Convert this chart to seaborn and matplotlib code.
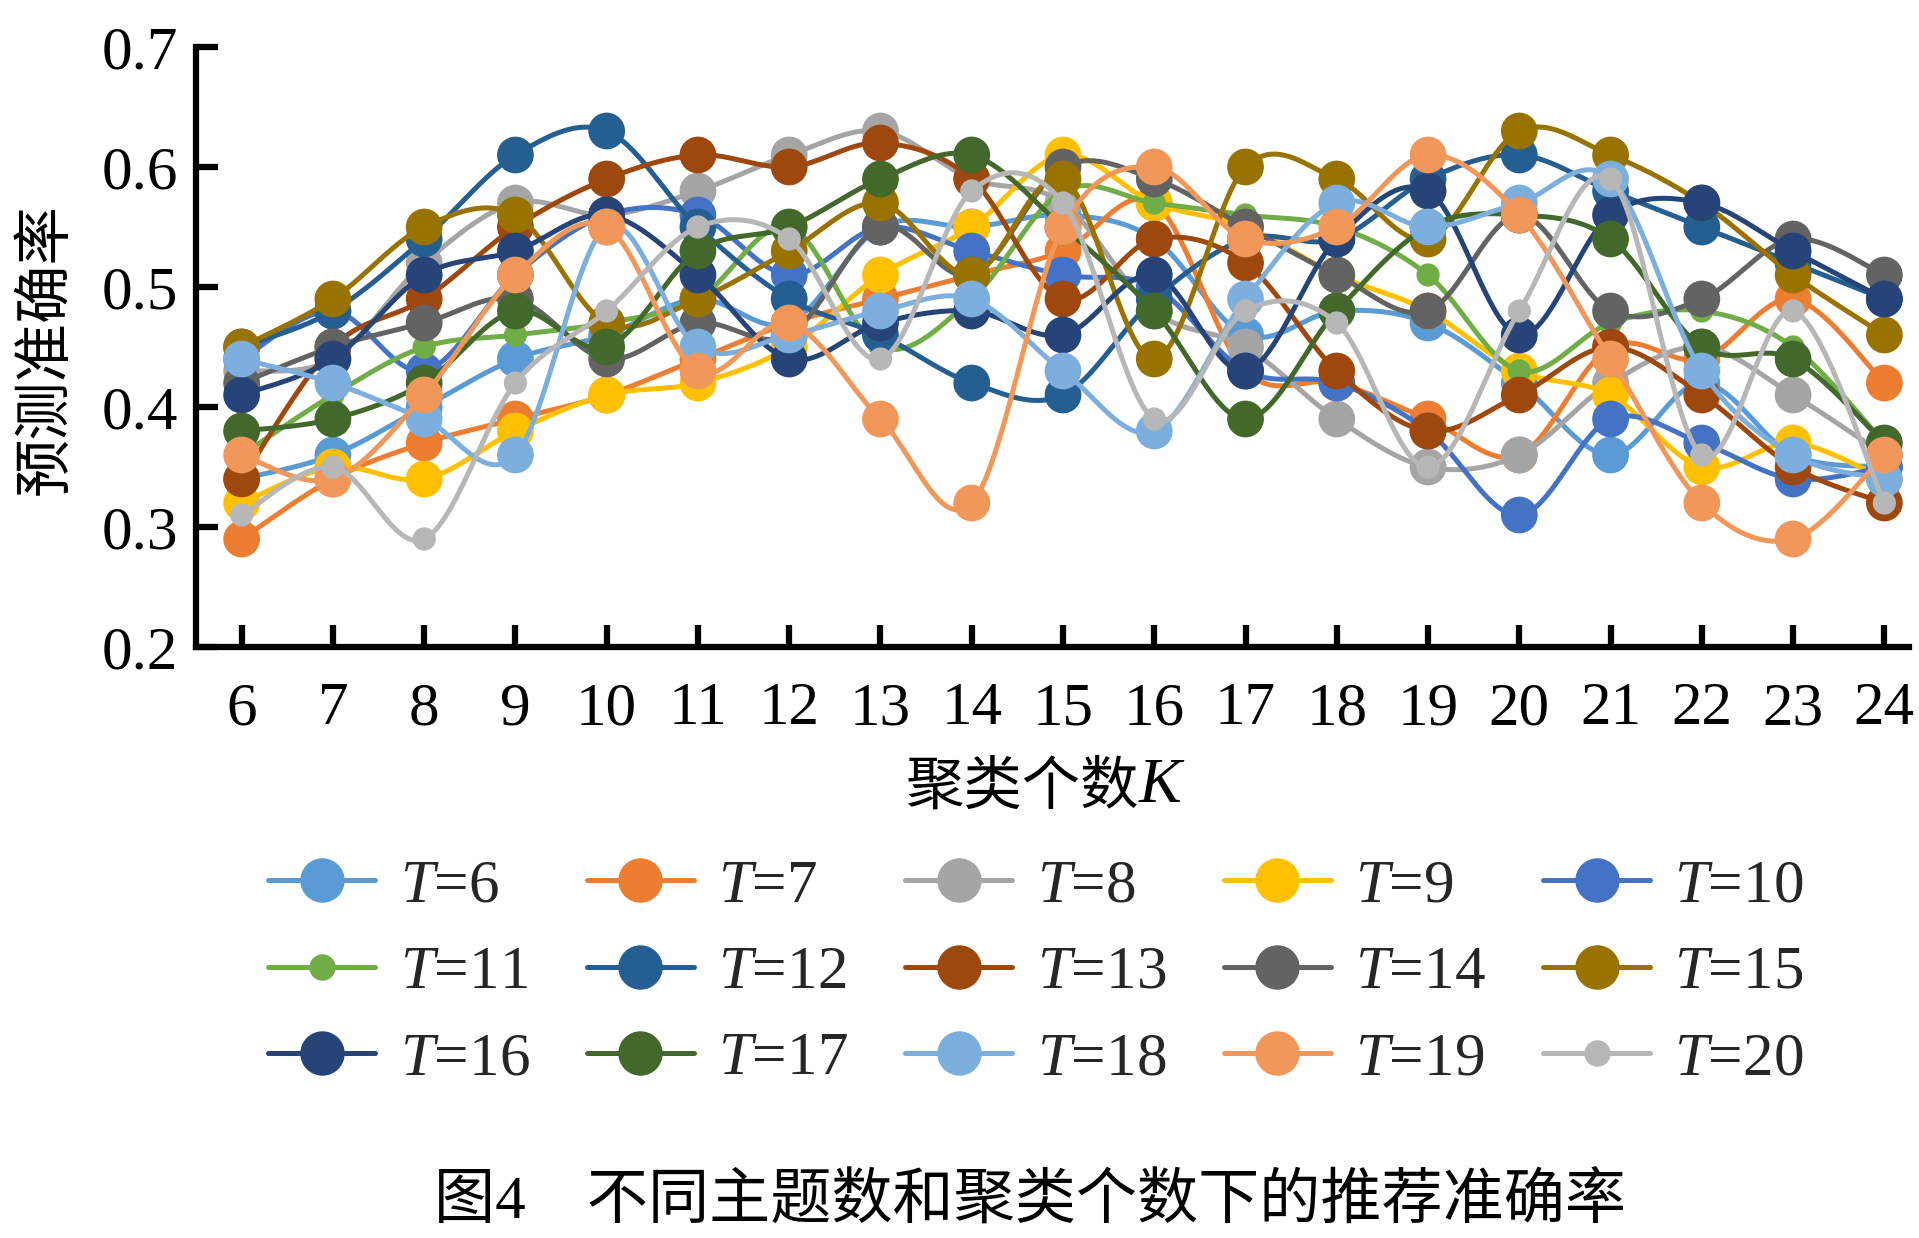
import numpy as np
import pandas as pd
import matplotlib
matplotlib.use("Agg")
import matplotlib.pyplot as plt
import seaborn as sns
from matplotlib.lines import Line2D

# ---------------- data ----------------
K = [6, 7, 8, 9, 10, 11, 12, 13, 14, 15, 16, 17, 18, 19, 20, 21, 22, 23, 24]

T6  = [0.34, 0.36, 0.40, 0.44, 0.46, 0.49, 0.47, 0.55, 0.55, 0.56, 0.54, 0.46, 0.48, 0.47, 0.42, 0.36, 0.42, 0.36, 0.35]
T7  = [0.29, 0.34, 0.37, 0.39, 0.41, 0.44, 0.47, 0.49, 0.51, 0.53, 0.57, 0.43, 0.42, 0.39, 0.36, 0.45, 0.44, 0.49, 0.42]
T8  = [0.43, 0.44, 0.52, 0.57, 0.56, 0.58, 0.61, 0.63, 0.59, 0.57, 0.48, 0.45, 0.39, 0.35, 0.36, 0.42, 0.45, 0.41, 0.36]
T9  = [0.32, 0.35, 0.34, 0.38, 0.41, 0.42, 0.45, 0.51, 0.55, 0.61, 0.57, 0.55, 0.51, 0.48, 0.43, 0.41, 0.35, 0.37, 0.34]
T10 = [0.44, 0.48, 0.43, 0.51, 0.56, 0.56, 0.51, 0.55, 0.53, 0.51, 0.50, 0.43, 0.42, 0.38, 0.31, 0.39, 0.37, 0.34, 0.35]
T11 = [0.36, 0.41, 0.45, 0.46, 0.47, 0.49, 0.55, 0.45, 0.49, 0.58, 0.57, 0.56, 0.55, 0.51, 0.43, 0.47, 0.48, 0.45, 0.37]
T12 = [0.45, 0.48, 0.54, 0.61, 0.63, 0.55, 0.49, 0.46, 0.42, 0.41, 0.49, 0.54, 0.54, 0.59, 0.61, 0.58, 0.55, 0.52, 0.49]
T13 = [0.34, 0.45, 0.49, 0.55, 0.59, 0.61, 0.60, 0.62, 0.59, 0.49, 0.54, 0.52, 0.43, 0.38, 0.41, 0.45, 0.41, 0.35, 0.32]
T14 = [0.42, 0.45, 0.47, 0.49, 0.44, 0.47, 0.46, 0.55, 0.51, 0.60, 0.59, 0.55, 0.51, 0.48, 0.56, 0.48, 0.49, 0.54, 0.51]
T15 = [0.45, 0.49, 0.55, 0.56, 0.47, 0.49, 0.53, 0.57, 0.51, 0.59, 0.44, 0.60, 0.59, 0.54, 0.63, 0.61, 0.57, 0.51, 0.46]
T16 = [0.41, 0.44, 0.51, 0.53, 0.56, 0.51, 0.44, 0.47, 0.48, 0.46, 0.51, 0.43, 0.54, 0.58, 0.46, 0.56, 0.57, 0.53, 0.49]
T17 = [0.38, 0.39, 0.42, 0.48, 0.45, 0.53, 0.55, 0.59, 0.61, 0.55, 0.48, 0.39, 0.48, 0.55, 0.56, 0.54, 0.45, 0.44, 0.37]
T18 = [0.44, 0.42, 0.39, 0.36, 0.55, 0.45, 0.46, 0.48, 0.49, 0.43, 0.38, 0.49, 0.57, 0.55, 0.57, 0.59, 0.43, 0.36, 0.34]
T19 = [0.36, 0.34, 0.41, 0.51, 0.55, 0.43, 0.47, 0.39, 0.32, 0.55, 0.60, 0.54, 0.55, 0.61, 0.56, 0.44, 0.32, 0.29, 0.36]
T20 = [0.31, 0.35, 0.29, 0.42, 0.48, 0.55, 0.54, 0.44, 0.58, 0.57, 0.39, 0.48, 0.47, 0.35, 0.48, 0.59, 0.36, 0.48, 0.32]

topics = [6, 7, 8, 9, 10, 11, 12, 13, 14, 15, 16, 17, 18, 19, 20]
series = [T6, T7, T8, T9, T10, T11, T12, T13, T14, T15, T16, T17, T18, T19, T20]
colors = ["#5B9BD5", "#ED7D31", "#A5A5A5", "#FFC000", "#4472C4", "#70AD47",
          "#255E91", "#9E480E", "#636363", "#997300", "#264478", "#43682B",
          "#7CAFDD", "#F1975A", "#B7B7B7"]
small_marker = {11, 20}

y_ticks = [0.2, 0.3, 0.4, 0.5, 0.6, 0.7]
y_ticklabels = ["0.2", "0.3", "0.4", "0.5", "0.6", "0.7"]

x_label = "聚类个数"
x_label_var = "K"
y_label = "预测准确率"
caption = "图4\u3000不同主题数和聚类个数下的推荐准确率"


def smooth_curve(xs, ys, n=40):
    """Excel-like smoothed line (Catmull-Rom Bezier) through the data points."""
    x = np.asarray(xs, float)
    y = np.asarray(ys, float)
    px = np.concatenate([[x[0]], x, [x[-1]]])
    py = np.concatenate([[y[0]], y, [y[-1]]])
    t = np.linspace(0, 1, n)[:, None]
    out = []
    for i in range(len(x) - 1):
        p0 = np.array([px[i + 1], py[i + 1]])
        p3 = np.array([px[i + 2], py[i + 2]])
        c1 = p0 + (np.array([px[i + 2], py[i + 2]]) - np.array([px[i], py[i]])) / 6.0
        c2 = p3 - (np.array([px[i + 3], py[i + 3]]) - np.array([px[i + 1], py[i + 1]])) / 6.0
        seg = ((1 - t) ** 3) * p0 + 3 * ((1 - t) ** 2) * t * c1 + 3 * (1 - t) * t ** 2 * c2 + t ** 3 * p3
        if i > 0:
            seg = seg[1:]
        out.append(seg)
    out = np.vstack(out)
    return out[:, 0], out[:, 1]


# ---------------- style ----------------
sns.set_theme(style="white")
plt.rcParams["font.family"] = ["Liberation Serif", "Noto Sans CJK SC"]
plt.rcParams["mathtext.fontset"] = "custom"
plt.rcParams["mathtext.rm"] = "Liberation Serif"
plt.rcParams["mathtext.it"] = "Liberation Serif:italic"
plt.rcParams["axes.unicode_minus"] = False

W, H = 1919, 1238
fig = plt.figure(figsize=(W / 100, H / 100), dpi=100)
fig.patch.set_facecolor("white")
ax = fig.add_axes([196 / W, 1 - 647 / H, 1713 / W, 600 / H])
ax.set_facecolor("white")

LW = 3.6
for i, (t, vals, c) in enumerate(zip(topics, series, colors)):
    sx, sy = smooth_curve(K, vals)
    curve = pd.DataFrame({"K": sx, "acc": sy})
    sns.lineplot(data=curve, x="K", y="acc", ax=ax, color=c, lw=LW,
                 sort=False, estimator=None, zorder=3 + 2 * i)
    pts = pd.DataFrame({"K": K, "acc": vals})
    s = 280 if t in small_marker else 700
    sns.scatterplot(data=pts, x="K", y="acc", ax=ax, color=c, s=s,
                    edgecolor="none", linewidth=0, zorder=4 + 2 * i)

ax.set_xlim(5.5, 24.27)
ax.set_ylim(0.2, 0.7)
ax.set_xticks(K)
ax.set_xticklabels([str(k) for k in K], fontsize=44)
ax.set_yticks(y_ticks)
ax.set_yticklabels(y_ticklabels, fontsize=44)
ax.set_xlabel("")
ax.set_ylabel("")

for side in ["top", "right"]:
    ax.spines[side].set_visible(False)
for side in ["left", "bottom"]:
    ax.spines[side].set_color("black")
    ax.spines[side].set_linewidth(4.5)
ax.tick_params(axis="both", direction="in", length=16, width=4.5, color="black",
               labelcolor="black")
ax.tick_params(axis="x", pad=25, bottom=True)
ax.tick_params(axis="y", pad=13, left=True)
ax.grid(False)

# axis titles
fig.text(45 / W, 1 - 349 / H, y_label, rotation=90, ha="center", va="center",
         fontsize=42, family=["Noto Sans CJK SC"], color="black")
xl = fig.text(1022 / W, 1 - 787 / H, x_label, ha="center", va="center",
              fontsize=42, family=["Noto Sans CJK SC"], color="black")
ax.annotate(x_label_var, xy=(1.0, 0.5), xycoords=xl, ha="left", va="center",
            fontsize=46, style="italic", family=["Liberation Serif"], color="black")

# legend (row-major order)
handles = []
for t, c in zip(topics, colors):
    ms = 19 if t in small_marker else 32
    handles.append(Line2D([0], [0], color=c, lw=LW, marker="o", markersize=ms,
                          markeredgewidth=0, markerfacecolor=c))
labels = ["$T$=%d" % t for t in topics]
ncol, nrow = 5, 3
order = [r * ncol + c for c in range(ncol) for r in range(nrow)]
leg = fig.legend([handles[j] for j in order], [labels[j] for j in order],
                 loc="center", bbox_to_anchor=(1036 / W, 1 - 973 / H),
                 ncol=ncol, frameon=False, fontsize=44, handlelength=1.75,
                 handletextpad=0.4, columnspacing=0.94, labelspacing=0.5)

# caption
fig.text(1030 / W, 1 - 1203 / H, caption, ha="center", va="center", fontsize=44,
         family=["Liberation Serif", "Noto Sans CJK SC"], color="black")

fig.savefig("out.png", dpi=100, facecolor="white")
